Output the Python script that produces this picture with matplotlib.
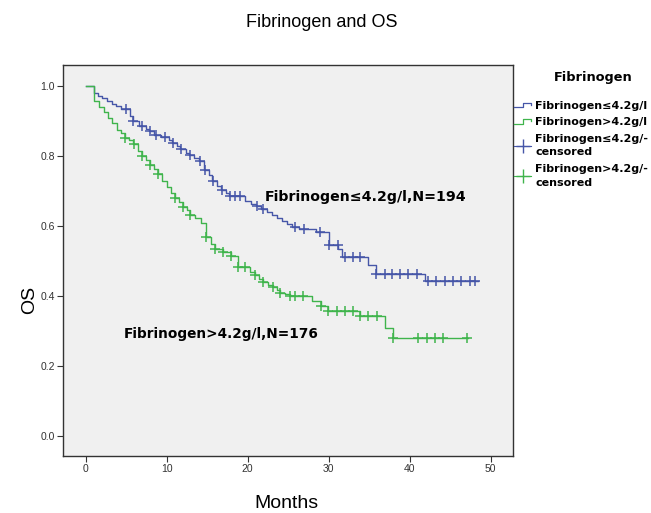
import matplotlib
matplotlib.use("Agg")
import matplotlib.pyplot as plt
from matplotlib.lines import Line2D
from matplotlib.legend_handler import HandlerBase

plt.rcParams['font.family'] = ['Liberation Sans', 'DejaVu Sans']

# ---- data ----
low_times = [0, 1.0, 1.5, 2.0, 2.6, 3.2, 3.8, 4.4, 5.5, 5.9, 6.6, 7.4, 7.8, 8.4, 9.3, 10.3,
             10.7, 11.3, 11.7, 12.4, 12.8, 13.4, 14.0, 14.6, 15.2, 15.6, 16.2, 16.7, 17.3,
             17.7, 19.7, 20.4, 21.0, 21.6, 22.4, 23.0, 23.6, 24.2, 24.8, 25.5, 26.3, 28.4,
             30.0, 31.2, 31.6, 34.9, 35.9, 41.9, 48.4]
low_surv = [1.0, 0.98, 0.972, 0.965, 0.957, 0.95, 0.943, 0.935, 0.915, 0.90, 0.885, 0.878,
            0.871, 0.861, 0.855, 0.846, 0.838, 0.828, 0.819, 0.81, 0.804, 0.795, 0.785, 0.761,
            0.745, 0.728, 0.715, 0.704, 0.694, 0.685, 0.671, 0.664, 0.657, 0.65, 0.64, 0.632,
            0.624, 0.615, 0.607, 0.598, 0.592, 0.582, 0.547, 0.535, 0.512, 0.49, 0.464, 0.442,
            0.442]
low_cens = [5.0, 5.9, 6.9, 7.9, 8.7, 9.8, 10.8, 11.8, 12.9, 14.1, 14.7, 15.75, 16.8, 17.8,
            18.4, 19.1, 21.1, 21.9, 25.8, 26.9, 28.9, 30.1, 31.1, 32.0, 33.0, 33.9, 35.9, 36.9,
            37.8, 38.8, 39.8, 40.9, 42.3, 43.3, 44.4, 45.4, 46.4, 47.4, 48.1]

high_times = [0, 1.0, 1.6, 2.2, 2.8, 3.3, 3.9, 4.4, 4.8, 5.4, 5.9, 6.5, 6.9, 7.4, 7.9, 8.4,
              8.9, 9.4, 10.0, 10.5, 11.0, 11.5, 12.0, 12.5, 12.9, 13.5, 14.2, 14.9, 15.5, 16.0,
              17.0, 18.0, 18.8, 20.3, 20.9, 21.4, 21.9, 22.5, 23.1, 23.6, 24.0, 24.6, 25.2,
              28.0, 29.0, 29.9, 33.9, 37.0, 38.0, 47.2]
high_surv = [1.0, 0.957, 0.94, 0.925, 0.91, 0.895, 0.875, 0.865, 0.852, 0.845, 0.836, 0.815,
             0.80, 0.788, 0.776, 0.762, 0.748, 0.73, 0.712, 0.695, 0.68, 0.668, 0.656, 0.645,
             0.633, 0.622, 0.61, 0.568, 0.55, 0.536, 0.525, 0.514, 0.482, 0.47, 0.461, 0.45,
             0.441, 0.433, 0.425, 0.418, 0.41, 0.405, 0.40, 0.385, 0.371, 0.357, 0.342, 0.31,
             0.281, 0.281]
high_cens = [4.85, 6.0, 6.9, 7.9, 8.9, 11.0, 12.0, 12.9, 14.9, 16.0, 17.0, 18.0, 18.8, 19.7,
             20.9, 21.9, 23.1, 24.0, 25.2, 25.8, 26.8, 29.0, 29.9, 31.0, 32.0, 33.0, 33.9,
             34.9, 36.0, 38.0, 41.0, 42.1, 43.1, 44.1, 47.1]

x_ticks = [0, 10, 20, 30, 40, 50]
y_ticks = [0.0, 0.2, 0.4, 0.6, 0.8, 1.0]

legend_title = "Fibrinogen"
labels = ["Fibrinogen\u22644.2g/l", "Fibrinogen>4.2g/l",
          "Fibrinogen\u22644.2g/-\ncensored", "Fibrinogen>4.2g/-\ncensored"]
annot_low = "Fibrinogen\u22644.2g/l,N=194"
annot_high = "Fibrinogen>4.2g/l,N=176"

BLUE = "#4656a8"
GREEN = "#3fb44c"
BOLDFONT = ['DejaVu Sans']


def surv_at(times, surv, t):
    s = surv[0]
    for ti, si in zip(times, surv):
        if ti <= t:
            s = si
    return s


fig = plt.figure(figsize=(6.51, 5.13), dpi=100)
ax = fig.add_axes([0.0968, 0.111, 0.691, 0.762])
ax.set_facecolor("#f0f0f0")

ax.step(low_times, low_surv, where="post", color=BLUE, lw=1.0)
ax.step(high_times, high_surv, where="post", color=GREEN, lw=1.0)
ax.plot(low_cens, [surv_at(low_times, low_surv, t) for t in low_cens], ls="none",
        marker="+", ms=7, mew=1.1, color=BLUE)
ax.plot(high_cens, [surv_at(high_times, high_surv, t) for t in high_cens], ls="none",
        marker="+", ms=7, mew=1.1, color=GREEN)

ax.set_xlim(-2.8, 52.75)
ax.set_ylim(-0.057, 1.06)
ax.set_xticks(x_ticks)
ax.set_yticks(y_ticks)
ax.set_yticklabels([f"{v:.1f}" for v in y_ticks])
ax.tick_params(axis="both", direction="out", length=4, width=0.8, labelsize=7.5,
               colors="#333333", pad=2)
for sp in ax.spines.values():
    sp.set_color("#333333")
    sp.set_linewidth(1.0)

ax.text(22.1, 0.684, annot_low, fontsize=10.2, fontweight="bold", va="center", ha="left",
        family=BOLDFONT)
ax.text(4.73, 0.293, annot_high, fontsize=9.8, fontweight="bold", va="center", ha="left",
        family=BOLDFONT)

fig.text(0.494, 0.957, "Fibrinogen and OS", fontsize=13, ha="center", va="center")
fig.text(0.44, 0.018, "Months", fontsize=14, ha="center", va="center")
fig.text(0.046, 0.415, "OS", fontsize=14, ha="center", va="center", rotation=90)
fig.text(0.911, 0.848, legend_title, fontsize=9.3, fontweight="bold", ha="center",
         va="center", family=BOLDFONT)


class StepHandler(HandlerBase):
    def create_artists(self, legend, orig_handle, xdescent, ydescent, width, height,
                       fontsize, trans):
        w, h = width, height
        xs = [-xdescent, -xdescent + 0.55 * w, -xdescent + 0.55 * w, -xdescent + 0.95 * w,
              -xdescent + 0.95 * w]
        ys = [-ydescent + 0.15 * h, -ydescent + 0.15 * h, -ydescent + 0.75 * h,
              -ydescent + 0.75 * h, -ydescent + 0.5 * h]
        ln = Line2D(xs, ys, color=orig_handle.get_color(), lw=0.9, transform=trans)
        return [ln]


h1 = Line2D([], [], color=BLUE)
h2 = Line2D([], [], color=GREEN)
h3 = Line2D([], [], color=BLUE, marker="+", ls="-", lw=0.8, ms=10, mew=1.0)
h4 = Line2D([], [], color=GREEN, marker="+", ls="-", lw=0.8, ms=10, mew=1.0)
leg = fig.legend([h1, h2, h3, h4], labels, loc="upper left",
                 bbox_to_anchor=(0.789, 0.804), frameon=False,
                 handler_map={h1: StepHandler(), h2: StepHandler()},
                 prop={"size": 8.0, "weight": "bold", "family": BOLDFONT},
                 handlelength=1.6, handletextpad=0.35,
                 labelspacing=0.6, borderaxespad=0.0, borderpad=0.0)
for t in leg.get_texts():
    t.set_linespacing(1.45)

fig.savefig("out.png", dpi=100)
